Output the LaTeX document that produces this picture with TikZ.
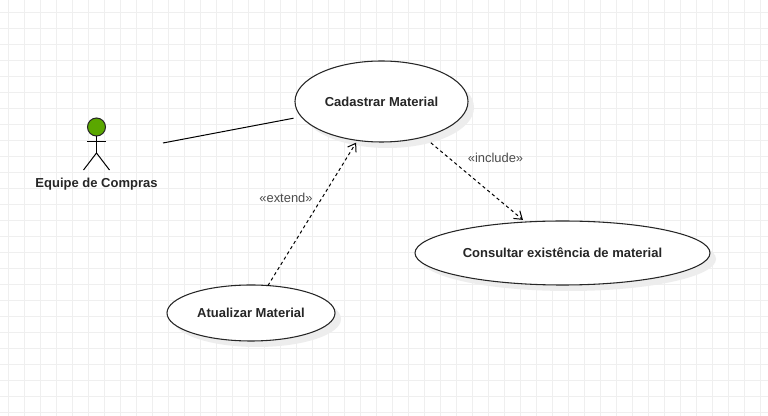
\documentclass[tikz,border=0pt]{standalone}
\usepackage{fontspec}
\setmainfont{Liberation Sans}
\usetikzlibrary{positioning,arrows.meta,shadows,shapes.geometric}
\definecolor{gridgray}{HTML}{EFEFEF}
\definecolor{actorgreen}{HTML}{5AA700}
\tikzset{
usecase/.style={shape=ellipse, draw=black!85, line width=0.8pt, fill=white, inner sep=0pt, outer sep=0pt, font=\fontsize{9.75pt}{11pt}\selectfont\bfseries, text=black!85, drop shadow={shadow xshift=4.5pt, shadow yshift=-4.5pt, fill=black!7, opacity=1}},
stereotype/.style={font=\fontsize{9.7pt}{11pt}\selectfont, text=black!70, inner sep=0pt},
dependency/.style={line width=0.75pt, dash pattern=on 2.4pt off 2.2pt, -{Straight Barb[length=5.5pt,width=7.5pt]}},
limb/.style={line width=0.75pt, black},
gridline/.style={gridgray, line width=0.75pt}
}
\begin{document}
\begin{tikzpicture}[x=0.75pt, y=-0.75pt]
          \useasboundingbox[fill=white] (0,0) rectangle (768,416);
          \foreach \gx in {8,24,...,760} {\draw[gridline] (\gx,0) -- (\gx,416);}
          \foreach \gy in {13,29,...,413} {\draw[gridline] (0,\gy) -- (768,\gy);}
          \node[usecase, minimum width=129.75pt, minimum height=60.75pt] (cadastrar) at (381.5,101.5) {Cadastrar Material};
          \node[usecase, minimum width=221.25pt, minimum height=48pt] (consultar) at (562.5,253) {Consultar existência de material};
          \node[usecase, minimum width=126pt, minimum height=42pt] (atualizar) at (251,313) {Atualizar Material};
          \node[shape=circle, draw=black!85, line width=0.75pt, fill=actorgreen, inner sep=0pt, outer sep=0pt, minimum size=13.5pt] (head) at (96.5,127) {};
          \coordinate (hip) at (96.5,153);
          \coordinate[below=4.5pt of head.south, xshift=-7pt] (armL);
          \coordinate[below=4.5pt of head.south, xshift=7pt] (armR);
          \coordinate (footL) at (83.5,170);
          \coordinate (footR) at (109.5,170);
          \coordinate (port) at (163,143);
          \draw[limb] (head) -- (hip);
          \draw[limb] (armL) -- (armR);
          \draw[limb] (footL) -- (hip) -- (footR);
          \node[font=\fontsize{9.75pt}{11pt}\selectfont\bfseries, text=black!85, inner sep=0pt] (equipe) at (96.5,184) {Equipe de Compras};
          \draw[line width=0.75pt, shorten >=6pt] (port) -- (cadastrar);
          \draw[dependency, shorten >=2pt] (atualizar) -- (cadastrar);
          \draw[dependency, shorten <=7pt, shorten >=2.5pt] (cadastrar) -- (consultar);
          \node[stereotype] (extend) at (286,198) {«extend»};
          \node[stereotype] (include) at (495.5,158) {«include»};
      \end{tikzpicture}
\end{document}
